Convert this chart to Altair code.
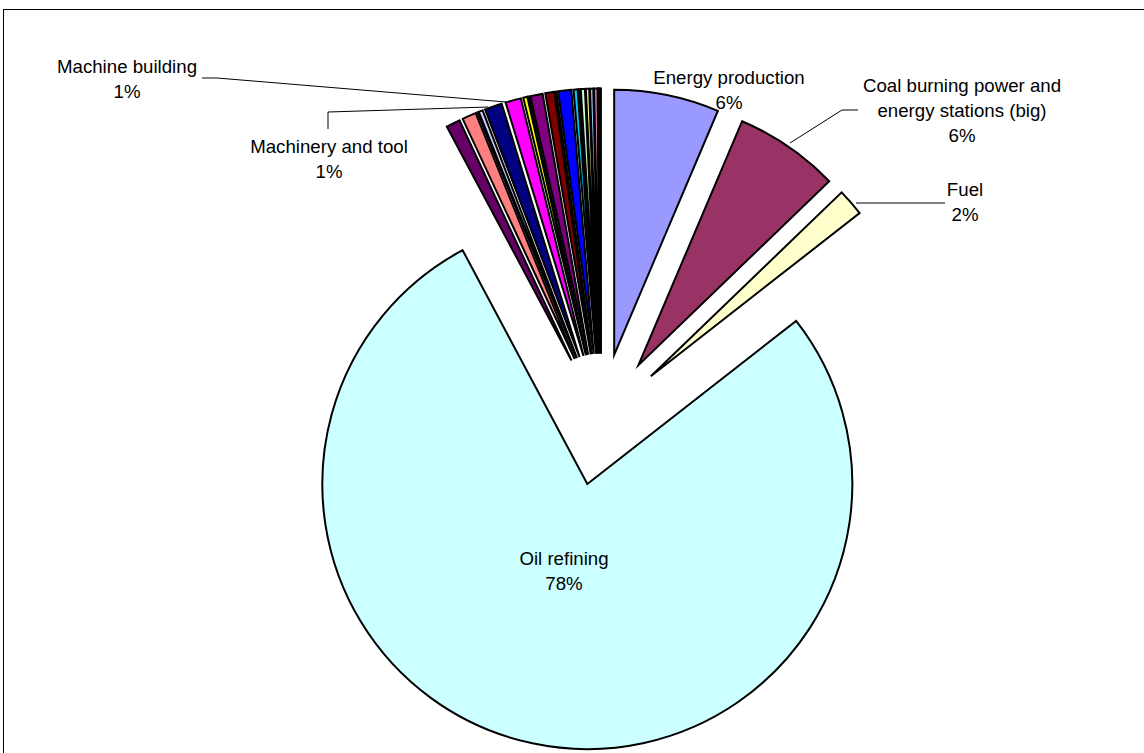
import altair as alt
import pandas as pd

# ---------------- data (clockwise from 12 o'clock) ----------------
sectors = [
    "Energy production",
    "Coal burning power and energy stations (big)",
    "Fuel",
    "Oil refining",
    "Other sector A", "Other sector B", "Other sector C", "Other sector D",
    "Machinery and tool",
    "Machine building",
    "Other sector E", "Other sector F", "Other sector G", "Other sector H",
    "Other sector I", "Other sector J", "Other sector K", "Other sector L",
    "Other sector M", "Other sector N", "Other sector O", "Other sector P",
    "Other sector Q", "Other sector R", "Other sector S",
]
shares = [
    6.4, 6.4, 1.65, 77.8,
    0.85, 0.85, 0.05, 0.25,
    1.05,
    0.95,
    0.25, 0.05, 0.75, 0.55,
    0.05, 0.8, 0.25, 0.1,
    0.25, 0.2, 0.2, 0.2,
    0.05, 0.05, 0.05,
]
colors = [
    "#9999FF", "#993366", "#FFFFCC", "#CCFFFF",
    "#660066", "#FF8080", "#0066CC", "#CCCCFF",
    "#000080",
    "#FF00FF",
    "#FFFF00", "#00FFFF", "#800080", "#800000",
    "#008080", "#0000FF", "#00CCFF", "#CCFFFF",
    "#CCFFCC", "#FFFF99", "#99CCFF", "#FF99CC",
    "#CC99FF", "#FFCC99", "#3366FF",
]
labelled = [
    "Energy production",
    "Coal burning power and energy stations (big)",
    "Fuel",
    "Oil refining",
    "Machine building",
    "Machinery and tool",
]

# ---------------- layout / style ----------------
W, H = 1144, 753
PAD_L, PAD_T = 3, 9
CX, CY = 601 - PAD_L, 419.5 - PAD_T    # pie centre inside the view
RADIUS = 265
EXPLODE = 66
FONT = "Liberation Sans"
FONT_SIZE = 18.67
LINE_H = 25

# label line-splits, centre x and first-line y (page coordinates)
label_layout = {
    "Energy production": (["Energy production"], 729, 78),
    "Coal burning power and energy stations (big)": (["Coal burning power and", "energy stations (big)"], 962, 86),
    "Fuel": (["Fuel"], 965, 190),
    "Oil refining": (["Oil refining"], 564, 559),
    "Machine building": (["Machine building"], 127, 67),
    "Machinery and tool": (["Machinery and tool"], 329, 147),
}
leader_lines = {
    "Machine building": [(202, 78), (217, 78), (506, 102)],
    "Machinery and tool": [(328, 129), (328, 112), (488, 107)],
    "Coal": [(858, 110), (842, 110), (790, 143)],
    "Fuel": [(945, 203), (856, 203)],
}

# ---------------- tables ----------------
slices = pd.DataFrame({
    "sector": sectors,
    "value": shares,
    "color": colors,
    "order": list(range(len(sectors))),
})

total = sum(shares)
lab_rows = []
for name in labelled:
    lines, px, py = label_layout[name]
    pct = round(100 * shares[sectors.index(name)] / total)
    lab_rows.append({"text": "\n".join(lines + [f"{pct}%"]),
                     "x": px - PAD_L, "y": py - PAD_T})
labels = pd.DataFrame(lab_rows)

line_rows = []
for key, pts in leader_lines.items():
    for i, (px, py) in enumerate(pts):
        line_rows.append({"line": key, "seq": i, "x": px - PAD_L, "y": py - PAD_T})
lines_df = pd.DataFrame(line_rows)

VW, VH = W - PAD_L, H - PAD_T

# ---------------- chart ----------------
pie = (
    alt.Chart(slices)
    .transform_joinaggregate(total="sum(value)")
    .transform_window(cum="sum(value)", sort=[alt.SortField("order", order="ascending")],
                      frame=[None, 0])
    .transform_calculate(
        t0="2*PI*(datum.cum - datum.value)/datum.total",
        t1="2*PI*datum.cum/datum.total",
    )
    .transform_calculate(mid="(datum.t0 + datum.t1)/2")
    .transform_calculate(
        cx=f"{CX} + {EXPLODE}*sin(datum.mid)",
        cy=f"{CY} - {EXPLODE}*cos(datum.mid)",
    )
    .mark_arc(outerRadius=RADIUS, stroke="black", strokeWidth=2,
              strokeJoin="miter", strokeMiterLimit=10)
    .encode(
        theta=alt.Theta("t0:Q", scale=None, stack=None),
        theta2="t1:Q",
        x=alt.X("cx:Q", scale=None, axis=None),
        y=alt.Y("cy:Q", scale=None, axis=None),
        color=alt.Color("color:N", scale=None),
        order=alt.Order("order:Q"),
    )
)

leaders = (
    alt.Chart(lines_df)
    .mark_line(color="black", strokeWidth=1)
    .encode(
        x=alt.X("x:Q", scale=None, axis=None),
        y=alt.Y("y:Q", scale=None, axis=None),
        detail="line:N",
        order="seq:Q",
    )
)

texts = (
    alt.Chart(labels)
    .mark_text(font=FONT, fontSize=FONT_SIZE, color="black", align="center",
               baseline="middle", lineBreak="\n", lineHeight=LINE_H)
    .encode(
        x=alt.X("x:Q", scale=None, axis=None),
        y=alt.Y("y:Q", scale=None, axis=None),
        text="text:N",
    )
)

# chart-area border (only top and left edges fall inside the window)
border_top = alt.Chart(slices).mark_rule(color="black", strokeWidth=1).encode(
    x=alt.value(0), x2=alt.value(VW + 5), y=alt.value(0.5))
border_left = alt.Chart(slices).mark_rule(color="black", strokeWidth=1).encode(
    x=alt.value(0.5), y=alt.value(0), y2=alt.value(VH + 5))

chart = (
    alt.layer(pie, leaders, texts, border_top, border_left)
    .properties(width=VW, height=VH,
                padding={"left": PAD_L, "top": PAD_T, "right": 0, "bottom": 0},
                autosize=alt.AutoSizeParams(type="none"))
    .configure_view(strokeWidth=0)
    .configure(background="white")
)

chart.save("out.html", embed_options={"renderer": "svg", "actions": False})
